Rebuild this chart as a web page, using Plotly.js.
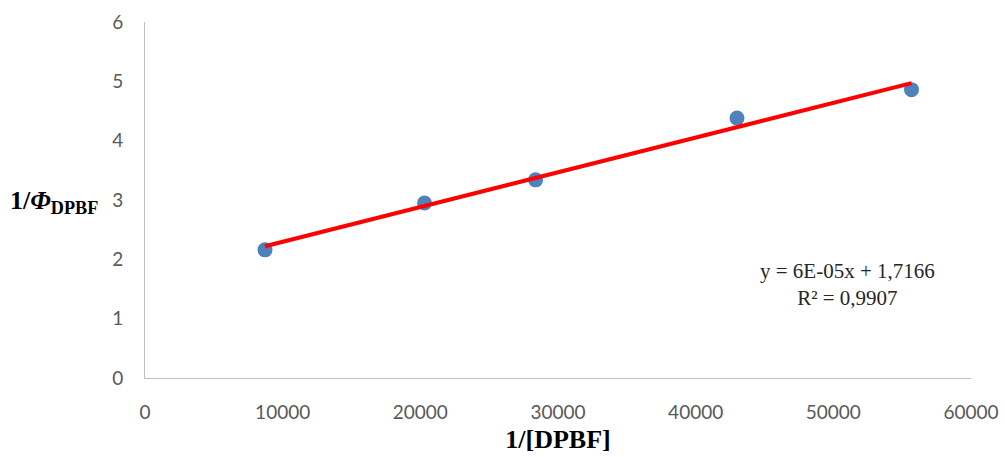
<!DOCTYPE html>
<html>
<head>
<meta charset="utf-8">
<script src="https://cdn.plot.ly/plotly-3.0.1.min.js"></script>
<style>html,body{margin:0;padding:0;background:#fff;}#chart{width:1005px;height:457px;}</style>
</head>
<body>
<div id="chart"></div>
<script>
// Data
const invDPBF = [8717, 20303, 28372, 43002, 55677];
const invPhi = [2.16, 2.95, 3.34, 4.38, 4.86];
const xTickVals = [0, 10000, 20000, 30000, 40000, 50000, 60000];
const yTickVals = [0, 1, 2, 3, 4, 5, 6];
const eqLine1 = 'y = 6E-05x + 1,7166';
const eqLine2 = 'R² = 0,9907';
const xTitle = '<b>1/[DPBF]</b>';
const yTitle = '<b>1/<i>Φ</i><sub>DPBF</sub></b>';

// least-squares linear trendline computed from the data
const n = invDPBF.length;
const mx = invDPBF.reduce((a,b)=>a+b,0)/n;
const my = invPhi.reduce((a,b)=>a+b,0)/n;
let sxy=0, sxx=0;
for (let i=0;i<n;i++){ sxy += (invDPBF[i]-mx)*(invPhi[i]-my); sxx += (invDPBF[i]-mx)**2; }
const slope = sxy/sxx, intercept = my - slope*mx;
const xMin = Math.min(...invDPBF), xMax = Math.max(...invDPBF);
const trendX = [xMin, xMax];
const trendY = trendX.map(x => slope*x + intercept);

const traces = [
  {x: invDPBF, y: invPhi, type: 'scatter', mode: 'markers',
   marker: {color: '#4F81BD', size: 15}, hoverinfo: 'x+y'},
  {x: trendX, y: trendY, type: 'scatter', mode: 'lines',
   line: {color: '#FF0000', width: 4}, hoverinfo: 'skip'}
];

const layout = {
  width: 1005, height: 457,
  margin: {l: 145, r: 34, t: 22, b: 79},
  paper_bgcolor: '#ffffff', plot_bgcolor: '#ffffff',
  showlegend: false,
  font: {family: 'Lato, "Open Sans", sans-serif', color: '#595959', size: 19},
  xaxis: {
    range: [0, 60000], tickvals: xTickVals, ticktext: xTickVals.map(String),
    showgrid: false, zeroline: false, showline: true, linecolor: '#BFBFBF', linewidth: 1,
    ticks: 'outside', ticklen: 17, tickcolor: 'rgba(0,0,0,0)', tickfont: {size: 19, color: '#595959'},
    title: {text: xTitle, font: {family: '"Liberation Serif", "Times New Roman", serif', size: 26, color: '#000000'}, standoff: 8}
  },
  yaxis: {
    range: [0, 6], tickvals: yTickVals, ticktext: yTickVals.map(String),
    showgrid: false, zeroline: false, showline: true, linecolor: '#BFBFBF', linewidth: 1,
    ticks: 'outside', ticklen: 17, tickcolor: 'rgba(0,0,0,0)', tickfont: {size: 19, color: '#595959'}
  },
  annotations: [
    {xref: 'paper', yref: 'y', x: -0.11, y: 2.97, text: yTitle, showarrow: false,
     xanchor: 'center', yanchor: 'middle',
     font: {family: '"Liberation Serif", "Times New Roman", serif', size: 26, color: '#000000'}},
    {xref: 'x', yref: 'y', x: 51065, y: 1.58, text: eqLine1 + '<br>' + eqLine2, showarrow: false,
     xanchor: 'center', yanchor: 'middle', align: 'center',
     font: {family: '"Liberation Serif", "Times New Roman", serif', size: 21, color: '#262626'}}
  ]
};

Plotly.newPlot('chart', traces, layout, {displayModeBar: false, staticPlot: true});
</script>
</body>
</html>
